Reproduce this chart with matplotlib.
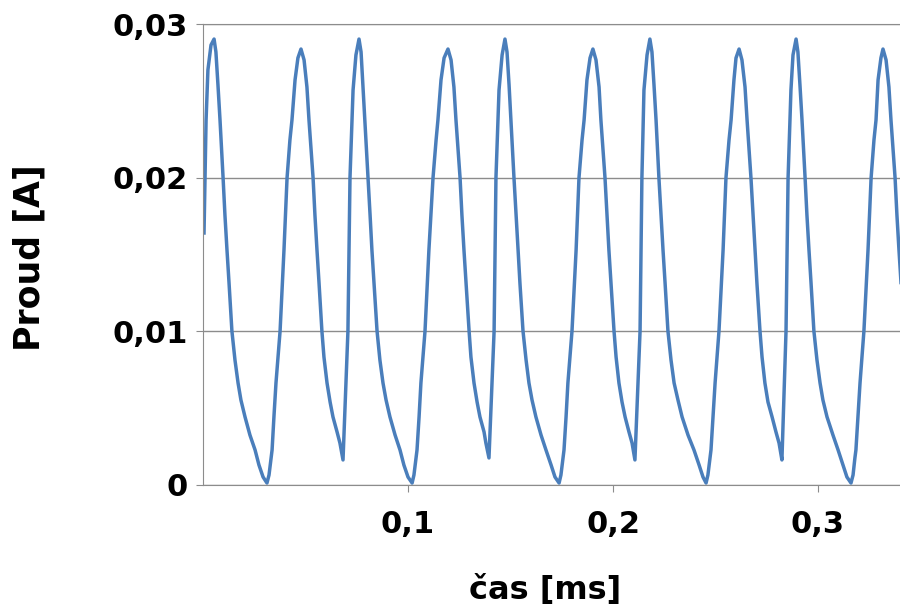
import matplotlib
matplotlib.use("Agg")
import matplotlib.pyplot as plt

# time [ms], one line per rising / falling edge
t_ms = [0.0005, 0.0015, 0.0024, 0.0039, 0.0054,
        0.0063, 0.0073, 0.0083, 0.0098, 0.0107, 0.0117, 0.0127, 0.0141, 0.0156, 0.0171, 0.0185, 0.0205, 0.0229, 0.0254, 0.0273, 0.0293, 0.0312,
        0.0322, 0.0332, 0.0337, 0.0346, 0.0356, 0.0376, 0.0395, 0.0410, 0.0424, 0.0434, 0.0449, 0.0463, 0.0478,
        0.0493, 0.0507, 0.0517, 0.0537, 0.0546, 0.0556, 0.0566, 0.0580, 0.0590, 0.0605, 0.0620, 0.0634, 0.0654, 0.0668, 0.0683,
        0.0707, 0.0717, 0.0732, 0.0746, 0.0761,
        0.0771, 0.0780, 0.0790, 0.0805, 0.0815, 0.0824, 0.0834, 0.0849, 0.0863, 0.0878, 0.0893, 0.0912, 0.0937, 0.0961, 0.0980, 0.1000, 0.1020,
        0.1029, 0.1039, 0.1044, 0.1054, 0.1063, 0.1083, 0.1102, 0.1122, 0.1137, 0.1146, 0.1161, 0.1176, 0.1195,
        0.1210, 0.1224, 0.1234, 0.1254, 0.1263, 0.1273, 0.1283, 0.1298, 0.1307, 0.1322, 0.1337, 0.1351, 0.1371, 0.1380, 0.1395,
        0.1420, 0.1429, 0.1444, 0.1459, 0.1473,
        0.1483, 0.1493, 0.1502, 0.1517, 0.1527, 0.1537, 0.1546, 0.1561, 0.1576, 0.1590, 0.1605, 0.1624, 0.1649, 0.1673, 0.1698, 0.1717, 0.1737,
        0.1746, 0.1756, 0.1761, 0.1771, 0.1780, 0.1800, 0.1820, 0.1834, 0.1849, 0.1859, 0.1873, 0.1888, 0.1902,
        0.1917, 0.1932, 0.1941, 0.1961, 0.1971, 0.1980, 0.1990, 0.2005, 0.2015, 0.2029, 0.2044, 0.2059, 0.2078, 0.2093, 0.2107,
        0.2132, 0.2141, 0.2151, 0.2166, 0.2180,
        0.2190, 0.2200, 0.2210, 0.2224, 0.2234, 0.2244, 0.2254, 0.2268, 0.2283, 0.2298, 0.2317, 0.2337, 0.2366, 0.2395, 0.2420, 0.2439, 0.2454,
        0.2463, 0.2473, 0.2478, 0.2488, 0.2498, 0.2517, 0.2537, 0.2551, 0.2566, 0.2576, 0.2590, 0.2600, 0.2615,
        0.2629, 0.2644, 0.2654, 0.2673, 0.2683, 0.2693, 0.2702, 0.2717, 0.2727, 0.2741, 0.2756, 0.2776, 0.2795, 0.2810, 0.2824,
        0.2844, 0.2854, 0.2868, 0.2878, 0.2893,
        0.2902, 0.2912, 0.2922, 0.2937, 0.2946, 0.2956, 0.2966, 0.2980, 0.2995, 0.3010, 0.3024, 0.3044, 0.3073, 0.3098, 0.3122, 0.3141, 0.3161,
        0.3171, 0.3180, 0.3185, 0.3195, 0.3205, 0.3224, 0.3244, 0.3259, 0.3273, 0.3283, 0.3293, 0.3307, 0.3317,
        0.3332, 0.3346, 0.3356, 0.3376, 0.3385, 0.3395, 0.3405, 0.3420]

# current [A], same order
i_a = [0.01640, 0.02375, 0.02701, 0.02863, 0.02902,
       0.02818, 0.02603, 0.02375, 0.01998, 0.01757, 0.01529, 0.01315, 0.01002, 0.00813, 0.00664, 0.00553, 0.00443, 0.00325, 0.00228, 0.00130, 0.00052, 0.00013,
       0.00065, 0.00176, 0.00228, 0.00443, 0.00664, 0.01002, 0.01529, 0.01998, 0.02245, 0.02375, 0.02636, 0.02779, 0.02837,
       0.02766, 0.02590, 0.02375, 0.01998, 0.01757, 0.01529, 0.01315, 0.01002, 0.00833, 0.00664, 0.00540, 0.00443, 0.00345, 0.00273, 0.00163,
       0.01002, 0.01998, 0.02570, 0.02798, 0.02902,
       0.02818, 0.02603, 0.02375, 0.01998, 0.01757, 0.01529, 0.01315, 0.01002, 0.00813, 0.00664, 0.00553, 0.00443, 0.00325, 0.00228, 0.00130, 0.00052, 0.00013,
       0.00065, 0.00176, 0.00228, 0.00443, 0.00664, 0.01002, 0.01529, 0.01998, 0.02245, 0.02375, 0.02636, 0.02779, 0.02837,
       0.02766, 0.02590, 0.02375, 0.01998, 0.01757, 0.01529, 0.01315, 0.01002, 0.00833, 0.00664, 0.00540, 0.00443, 0.00345, 0.00273, 0.00176,
       0.01002, 0.01998, 0.02570, 0.02798, 0.02902,
       0.02818, 0.02603, 0.02375, 0.01998, 0.01757, 0.01529, 0.01315, 0.01002, 0.00813, 0.00664, 0.00553, 0.00443, 0.00325, 0.00228, 0.00130, 0.00052, 0.00013,
       0.00065, 0.00176, 0.00228, 0.00443, 0.00664, 0.01002, 0.01529, 0.01998, 0.02245, 0.02375, 0.02636, 0.02779, 0.02837,
       0.02766, 0.02590, 0.02375, 0.01998, 0.01757, 0.01529, 0.01315, 0.01002, 0.00833, 0.00664, 0.00540, 0.00443, 0.00345, 0.00273, 0.00163,
       0.01002, 0.01998, 0.02570, 0.02798, 0.02902,
       0.02818, 0.02603, 0.02375, 0.01998, 0.01757, 0.01529, 0.01315, 0.01002, 0.00813, 0.00664, 0.00553, 0.00443, 0.00325, 0.00228, 0.00130, 0.00052, 0.00013,
       0.00065, 0.00176, 0.00228, 0.00443, 0.00664, 0.01002, 0.01529, 0.01998, 0.02245, 0.02375, 0.02636, 0.02779, 0.02837,
       0.02766, 0.02590, 0.02375, 0.01998, 0.01757, 0.01529, 0.01315, 0.01002, 0.00833, 0.00664, 0.00540, 0.00443, 0.00345, 0.00273, 0.00163,
       0.01002, 0.01998, 0.02570, 0.02798, 0.02902,
       0.02818, 0.02603, 0.02375, 0.01998, 0.01757, 0.01529, 0.01315, 0.01002, 0.00813, 0.00664, 0.00553, 0.00443, 0.00325, 0.00228, 0.00130, 0.00052, 0.00013,
       0.00065, 0.00176, 0.00228, 0.00443, 0.00664, 0.01002, 0.01529, 0.01998, 0.02245, 0.02375, 0.02636, 0.02779, 0.02837,
       0.02766, 0.02590, 0.02375, 0.01998, 0.01757, 0.01529, 0.01315, 0.01002]

x_ticks = [0.1, 0.2, 0.3]
x_labels = ["0,1", "0,2", "0,3"]
y_ticks = [0, 0.01, 0.02, 0.03]
y_labels = ["0", "0,01", "0,02", "0,03"]

grey = "#8c8c8c"

fig = plt.figure(figsize=(9, 6.14), dpi=100)
ax = fig.add_axes([203/900, 1-485/614, 1-203/900, (485-24)/614])

ax.plot(t_ms, i_a, color="#4a7ebb", lw=2.5, solid_joinstyle="round")

ax.set_xlim(0, 0.34)
ax.set_ylim(0, 0.03)
ax.set_xticks(x_ticks)
ax.set_xticklabels(x_labels)
ax.set_yticks(y_ticks)
ax.set_yticklabels(y_labels)

ax.grid(axis="y", color=grey, lw=1)
ax.set_axisbelow(True)
ax.spines["right"].set_visible(False)
ax.spines["top"].set_color(grey)
ax.spines["left"].set_color(grey)
ax.spines["bottom"].set_color(grey)

ax.tick_params(axis="x", direction="out", length=5, color=grey, pad=13,
               labelsize=22)
ax.tick_params(axis="y", direction="out", length=5, color=grey, pad=6,
               labelsize=22)
for lab in ax.get_xticklabels() + ax.get_yticklabels():
    lab.set_fontweight("bold")

fig.text(545/900, 1-590/614, "čas [ms]", ha="center", va="center",
         fontsize=23, fontweight="bold")
fig.text(30/900, 1-258/614, "Proud [A]", ha="center", va="center",
         rotation=90, fontsize=25, fontweight="bold")

fig.savefig("out.png", dpi=100)
